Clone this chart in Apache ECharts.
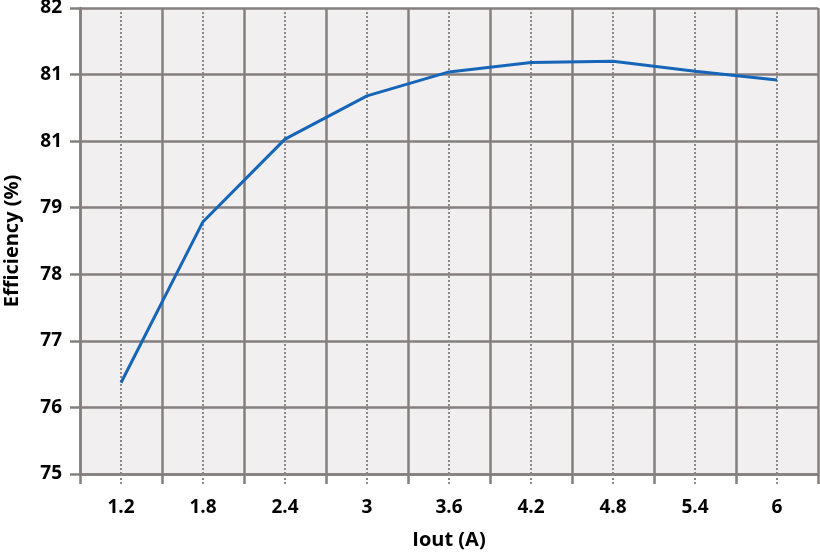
<!DOCTYPE html>
<html>
<head>
<meta charset="utf-8">
<script src="https://cdn.jsdelivr.net/npm/echarts@6/dist/echarts.min.js"></script>
<style>html,body{margin:0;padding:0;background:#fff}#c{width:820px;height:556px}</style>
</head>
<body>
<div id="c"></div>
<script>
var categories = ['1.2','1.8','2.4','3','3.6','4.2','4.8','5.4','6'];
var efficiency = [76.37, 78.79, 80.03, 80.68, 81.04, 81.18, 81.2, 81.05, 80.92];
var yTickValues = [75, 76, 77, 78, 79, 80, 81, 82];
var yTickLabels = ['75', '76', '77', '78', '79', '81', '81', '82'];
var xStep = 0.6;

var gridColor = '#857f7f';
var font = '"Open Sans", sans-serif';
var xMin = parseFloat(categories[0]) - xStep / 2;
var xMax = parseFloat(categories[categories.length - 1]) + xStep / 2;

var chart = echarts.init(document.getElementById('c'));
chart.setOption({
  animation: false,
  grid: { left: 80, right: 2, top: 8, bottom: 82, outerBoundsMode: 'none', containLabel: false,
          show: true, backgroundColor: '#f1efef', borderWidth: 0 },
  xAxis: [{
    type: 'category',
    data: categories,
    boundaryGap: true,
    axisLine: { show: false },
    axisTick: { show: false },
    splitLine: { show: false },
    axisLabel: { color: '#000', fontFamily: font, fontWeight: 'bold', fontSize: 19, margin: 24 },
    name: 'Iout (A)',
    nameLocation: 'middle',
    nameGap: 56,
    nameTextStyle: { color: '#000', fontFamily: font, fontWeight: 'bold', fontSize: 20 }
  }, {
    type: 'value',
    position: 'bottom',
    min: xMin, max: xMax, interval: xStep,
    axisLabel: { show: false },
    axisLine: { show: true, lineStyle: { color: gridColor, width: 2.5 } },
    axisTick: { show: true, length: 10, lineStyle: { color: gridColor, width: 2.5 } },
    splitLine: { show: true, lineStyle: { color: gridColor, width: 2.5 } },
    minorTick: { show: true, splitNumber: 2, length: 10, lineStyle: { color: '#8f8a8a', width: 2, type: [2, 2] } },
    minorSplitLine: { show: true, lineStyle: { color: '#8f8a8a', width: 2, type: [2, 2] } }
  }],
  yAxis: {
    type: 'value',
    min: yTickValues[0], max: yTickValues[yTickValues.length - 1], interval: 1,
    axisLine: { show: true, lineStyle: { color: gridColor, width: 2.5 } },
    axisTick: { show: true, length: 10, lineStyle: { color: gridColor, width: 2.5 } },
    splitLine: { show: true, lineStyle: { color: gridColor, width: 2.5 } },
    axisLabel: {
      color: '#000', fontFamily: font, fontWeight: 'bold', fontSize: 19, margin: 18,
      formatter: function (v) { var i = yTickValues.indexOf(Math.round(v)); return i >= 0 ? yTickLabels[i] : ''; }
    },
    name: 'Efficiency (%)',
    nameLocation: 'middle',
    nameGap: 58,
    nameTextStyle: { color: '#000', fontFamily: font, fontWeight: 'bold', fontSize: 20 }
  },
  series: [{
    type: 'line',
    xAxisIndex: 0,
    data: efficiency,
    symbol: 'none',
    lineStyle: { color: '#1565b8', width: 3 },
    z: 5
  }]
});
</script>
</body>
</html>
